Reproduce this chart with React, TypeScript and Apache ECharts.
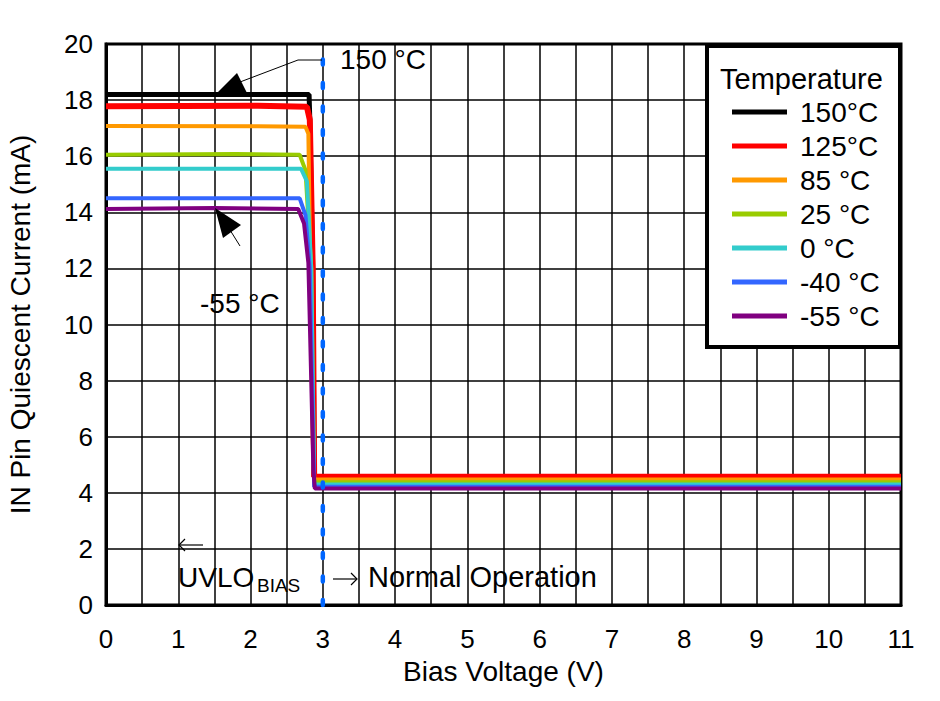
import React, { useEffect, useRef } from "react";
import * as echarts from "echarts";

const FONT = "'Liberation Sans', Arial, sans-serif";

const seriesNames = ["150°C", "125°C", "85 °C", "25 °C", "0 °C", "-40 °C", "-55 °C"];
const seriesColors = ["#000000", "#ff0000", "#ff9900", "#99cc00", "#33cccc", "#3366ff", "#800080"];
const seriesWidths = [5, 6, 4, 4, 4, 4, 4];

const d150 = [[0, 18.2], [2.81, 18.2], [2.82, 17.3], [2.86, 12.0], [2.88, 4.57], [11, 4.57]];
const d125 = [[0, 17.78], [2.1, 17.8], [2.78, 17.76], [2.82, 17.3], [2.86, 12.0], [2.88, 4.57], [11, 4.57]];
const d85 = [[0, 17.08], [2.1, 17.07], [2.76, 17.05], [2.8, 16.8], [2.86, 6.0], [2.88, 4.47], [11, 4.47]];
const d25 = [[0, 16.05], [1.8, 16.08], [2.68, 16.05], [2.76, 15.5], [2.84, 12.0], [2.88, 4.38], [11, 4.38]];
const d0 = [[0, 15.55], [2.7, 15.55], [2.78, 15.1], [2.84, 12.0], [2.88, 4.3], [11, 4.3]];
const dm40 = [[0, 14.5], [2.68, 14.5], [2.76, 13.9], [2.82, 12.0], [2.88, 4.22], [11, 4.22]];
const dm55 = [[0, 14.12], [1.5, 14.15], [2.66, 14.12], [2.74, 13.6], [2.8, 12.2], [2.87, 4.8], [2.89, 4.15], [11, 4.15]];
const seriesData = [d150, d125, d85, d25, d0, dm40, dm55];

const uvloLine = [[3, 0], [3, 20]];

export default function App() {
  const ref = useRef<HTMLDivElement>(null);
  useEffect(() => {
    const chart = echarts.init(ref.current!, null, { renderer: "svg" });
    const series: any[] = seriesData.map((d, i) => ({
      name: seriesNames[i],
      type: "line",
      data: d,
      showSymbol: false,
      symbol: "none",
      lineStyle: { color: seriesColors[i], width: seriesWidths[i] },
      itemStyle: { color: seriesColors[i] },
      z: 3 + i,
    }));
    series.push({
      name: "uvlo",
      type: "line",
      data: uvloLine,
      symbol: "none",
      lineStyle: { color: "#0066ff", width: 4.5, type: [5, 18.5], cap: "round" },
      z: 20,
    });
    const arrowStyle = { stroke: "#000", lineWidth: 1.2, fill: "none" };
    chart.setOption({
      animation: false,
      backgroundColor: "#ffffff",
      grid: {
        left: 106, top: 44, right: 39, bottom: 96,
        show: true, borderColor: "#000", borderWidth: 3, containLabel: false,
        outerBoundsMode: "none",
      },
      xAxis: {
        type: "value", min: 0, max: 11, interval: 0.5,
        name: "Bias Voltage (V)", nameLocation: "middle", nameGap: 52,
        nameTextStyle: { fontFamily: FONT, fontSize: 28, color: "#000" },
        axisLine: { show: true, lineStyle: { color: "#000", width: 3 } },
        axisTick: { show: false },
        axisLabel: {
          fontFamily: FONT, fontSize: 26, color: "#000", margin: 21,
          formatter: (v: number) => (Number.isInteger(v) ? String(v) : ""),
        },
        splitLine: { show: true, lineStyle: { color: "#000", width: 1.5 } },
      },
      yAxis: {
        type: "value", min: 0, max: 20, interval: 2,
        name: "IN Pin Quiescent Current (mA)", nameLocation: "middle", nameGap: 72,
        nameTextStyle: { fontFamily: FONT, fontSize: 28, color: "#000" },
        axisLine: { show: true, lineStyle: { color: "#000", width: 3 } },
        axisTick: { show: false },
        axisLabel: { fontFamily: FONT, fontSize: 26, color: "#000", margin: 13 },
        splitLine: { show: true, lineStyle: { color: "#000", width: 1.5 } },
      },
      legend: {
        data: seriesNames,
        orient: "vertical",
        left: 727, top: 93,
        icon: "rect",
        itemWidth: 55, itemHeight: 5,
        itemGap: 6,
        selectedMode: false,
        z: 50,
        textStyle: { fontFamily: FONT, fontSize: 28, color: "#000", lineHeight: 28, padding: [0, 0, 0, 8] },
      },
      graphic: [
        {
          type: "rect", z: 40,
          shape: { x: 707, y: 46, width: 193, height: 301 },
          style: { fill: "#fff", stroke: "#000", lineWidth: 4 },
        },
        {
          type: "text", z: 45, left: 720, top: 64,
          style: { text: "Temperature", font: `29px ${FONT}`, fill: "#000" },
        },
        // 150 °C annotation
        {
          type: "text", z: 45, left: 340, top: 45,
          style: { text: "150 °C", font: `28px ${FONT}`, fill: "#000" },
        },
        {
          type: "polyline", z: 45,
          shape: { points: [[322, 60], [298, 60], [240, 82]] },
          style: { stroke: "#000", lineWidth: 1, fill: "none" },
        },
        {
          type: "polygon", z: 45,
          shape: { points: [[237, 73], [216, 94], [247, 93]] },
          style: { fill: "#000" },
        },
        // -55 °C annotation
        {
          type: "text", z: 45, left: 200, top: 289,
          style: { text: "-55 °C", font: `28px ${FONT}`, fill: "#000" },
        },
        {
          type: "line", z: 45,
          shape: { x1: 230, y1: 230, x2: 240, y2: 246 },
          style: { stroke: "#000", lineWidth: 1 },
        },
        {
          type: "polygon", z: 45,
          shape: { points: [[215, 208], [241, 225], [223, 238]] },
          style: { fill: "#000" },
        },
        // left arrow
        { type: "line", z: 45, shape: { x1: 179, y1: 545, x2: 203, y2: 545 }, style: arrowStyle },
        { type: "polyline", z: 45, shape: { points: [[185, 539], [179, 545], [185, 551]] }, style: arrowStyle },
        // right arrow
        { type: "line", z: 45, shape: { x1: 333, y1: 579, x2: 357, y2: 579 }, style: arrowStyle },
        { type: "polyline", z: 45, shape: { points: [[351, 573], [357, 579], [351, 585]] }, style: arrowStyle },
        {
          type: "text", z: 45, left: 178, top: 563,
          style: { text: "UVLO", font: `28px ${FONT}`, fill: "#000" },
        },
        {
          type: "text", z: 45, left: 257, top: 576,
          style: { text: "BIAS", font: `19px ${FONT}`, fill: "#000" },
        },
        {
          type: "text", z: 45, left: 368, top: 562,
          style: { text: "Normal Operation", font: `29px ${FONT}`, fill: "#000" },
        },
      ],
      series,
    });
    return () => chart.dispose();
  }, []);
  return <div ref={ref} style={{ width: 940, height: 701, position: "absolute", left: 0, top: 0 }} />;
}
